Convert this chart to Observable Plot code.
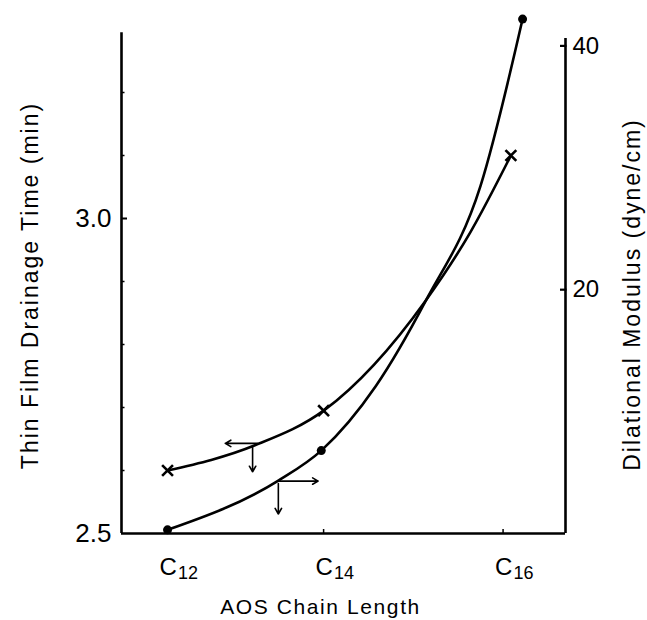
<!DOCTYPE html>
<html><head><meta charset="utf-8">
<script src="https://cdn.jsdelivr.net/npm/d3@7"></script>
<script src="https://cdn.jsdelivr.net/npm/@observablehq/plot@0.6"></script>
<style>body{margin:0;background:#fff}</style>
</head><body><div id="chart"></div>
<script>
// ---- data ----
const chainLabels = ["C12", "C14", "C16"];
const chainTickPos = [12, 14, 16.3];
// measured points (markers)
const drainX = [12, 14, 16.4];
const drainTime = [2.60, 2.695, 3.10];          // Thin film drainage time (min), left axis
const modulusX = [12, 13.97, 16.55];
const modulus = [0.3, 6.8, 42.2];               // Dilational modulus (dyne/cm), right axis
// points
const drainCurveX = [12, 13.12, 14, 15.31, 15.88, 16.4];
const drainCurveY = [2.60, 2.640, 2.695, 2.870, 2.978, 3.10];
const modulusCurveX = [12, 13.42, 13.97, 14.67, 15.31, 16.01, 16.55];
const modulusCurveY = [0.3, 4.34, 6.8, 12.1, 19.1, 28.5, 42.2];
const leftTicks = [2.5, 3.0];
const leftMinorTicks = [2.6, 2.7, 2.8, 2.9, 3.1, 3.2];
const rightTicks = [20, 40];
// axis-pointer flags (left pointing = left axis, right pointing = right axis)
const drainFlag = [{x1: 13.15, y1: 2.643, x2: 12.74, y2: 2.643}, {x1: 13.09, y1: 2.637, x2: 13.09, y2: 2.598}];
const modulusFlag = [{x1: 13.42, y1: 4.3, x2: 13.93, y2: 4.3}, {x1: 13.42, y1: 4.1, x2: 13.42, y2: 1.6}];

// ---- scales ----
const xDomain = [11.41, 17.10];
const yDomain = [2.5, 3.3];
const pxPerX = 444 / (xDomain[1] - xDomain[0]);
const pxPerY = 504 / (yDomain[1] - yDomain[0]);
const rightToLeft = d3.scaleLinear([0, 20], [2.5, 2.887]);

const drainData = drainX.map((x, i) => ({x, y: drainTime[i]}));
const modData = modulusX.map((x, i) => ({x, y: rightToLeft(modulus[i])}));
const drainCurve = drainCurveX.map((x, i) => ({x, y: drainCurveY[i]}));
const modCurve = modulusCurveX.map((x, i) => ({x, y: rightToLeft(modulusCurveY[i])}));
const modFlagL = modulusFlag.map(d => ({x1: d.x1, x2: d.x2, y1: rightToLeft(d.y1), y2: rightToLeft(d.y2)}));

const font = "'Liberation Sans', Arial, sans-serif";

const plot = Plot.plot({
  width: 647,
  height: 620,
  marginLeft: 121,
  marginRight: 82,
  marginTop: 29,
  marginBottom: 87,
  style: {fontFamily: font, fontSize: "24px", background: "#fff", color: "#000", overflow: "visible"},
  x: {domain: xDomain, axis: null},
  y: {domain: yDomain, axis: null},
  marks: [
    // axis frame lines
    Plot.ruleX([xDomain[0]], {y1: 2.5, y2: 3.295, strokeWidth: 2.6}),
    Plot.ruleX([xDomain[1]], {y1: 2.5, y2: rightToLeft(40.6), strokeWidth: 2.6}),
    Plot.ruleY([2.5], {x1: xDomain[0], x2: xDomain[1], strokeWidth: 2.6}),
    // left ticks (inward)
    Plot.ruleY(leftTicks.slice(1), {x1: xDomain[0], x2: xDomain[0] + 6 / pxPerX, strokeWidth: 2}),
    Plot.ruleY(leftMinorTicks, {x1: xDomain[0], x2: xDomain[0] + 3.5 / pxPerX, strokeWidth: 1.5}),
    // right ticks
    Plot.ruleY(rightTicks.map(rightToLeft), {x1: xDomain[1] - 5 / pxPerX, x2: xDomain[1] + 1.5 / pxPerX, strokeWidth: 2.2}),
    // bottom ticks
    Plot.ruleX(chainTickPos, {y1: 2.5, y2: 2.5 + 4 / pxPerY, strokeWidth: 1.5}),
    // tick labels
    Plot.axisY({ticks: leftTicks, tickSize: 0, tickPadding: 10, tickFormat: ".1f", anchor: "left", label: null, fontSize: 26}),
    Plot.axisY({ticks: rightTicks.map(rightToLeft), tickSize: 0, tickPadding: 7, anchor: "right",
      tickFormat: v => String(Math.round(rightToLeft.invert(v))), label: null, fontSize: 24}),
    Plot.axisX({ticks: chainTickPos, tickSize: 0, tickPadding: 24, anchor: "bottom", label: null, fontSize: 24,
      tickFormat: v => chainLabels[chainTickPos.indexOf(v)]}),
    // axis titles
    Plot.text(["AOS Chain Length"], {frameAnchor: "bottom", textAnchor: "middle", dx: -23, dy: 74, lineAnchor: "middle", fontSize: 21}),
    Plot.text(["Thin Film Drainage Time (min)"], {frameAnchor: "left", textAnchor: "middle", rotate: -90, dx: -91, dy: 4, lineAnchor: "middle", fontSize: 23}),
    Plot.text(["Dilational Modulus (dyne/cm)"], {frameAnchor: "right", textAnchor: "middle", rotate: -90, dx: 67, dy: 13, lineAnchor: "middle", fontSize: 23}),
    // curves
    Plot.line(drainCurve, {x: "x", y: "y", curve: "monotone-x", strokeWidth: 2.6, stroke: "#000"}),
    Plot.line(modCurve, {x: "x", y: "y", curve: "monotone-x", strokeWidth: 2.6, stroke: "#000"}),
    Plot.dot(drainData, {x: "x", y: "y", symbol: "times", r: 5, stroke: "#000", strokeWidth: 2.6}),
    Plot.dot(modData, {x: "x", y: "y", r: 4.5, fill: "#000", stroke: "none"}),
    // axis pointers
    Plot.arrow(drainFlag, {x1: "x1", y1: "y1", x2: "x2", y2: "y2", headLength: 6, strokeWidth: 1.6, stroke: "#000"}),
    Plot.arrow(modFlagL, {x1: "x1", y1: "y1", x2: "x2", y2: "y2", headLength: 6, strokeWidth: 1.6, stroke: "#000"})
  ]
});

// subscripts for chain-length labels; the "C" sits centred over its tick
plot.querySelectorAll('g[aria-label="x-axis tick label"] text').forEach(t => {
  const s = t.textContent;
  const m = /^C(\d+)$/.exec(s);
  if (!m) return;
  t.textContent = "";
  t.setAttribute("text-anchor", "start");
  t.setAttribute("dx", "-8");
  const a = document.createElementNS("http://www.w3.org/2000/svg", "tspan");
  a.textContent = "C";
  const b = document.createElementNS("http://www.w3.org/2000/svg", "tspan");
  b.textContent = m[1];
  b.setAttribute("font-size", "18");
  b.setAttribute("dy", "4");
  b.setAttribute("dx", "1");
  t.appendChild(a); t.appendChild(b);
});
plot.querySelectorAll('g[aria-label="text"] text').forEach(t => {
  t.setAttribute("letter-spacing", t.textContent.startsWith("AOS") ? "1.6" : "2");
});
document.getElementById("chart").appendChild(plot);
</script>
</body></html>
